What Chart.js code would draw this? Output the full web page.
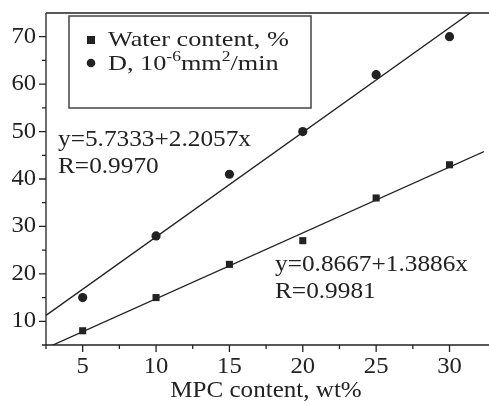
<!DOCTYPE html>
<html>
<head>
<meta charset="utf-8">
<script src="https://cdn.jsdelivr.net/npm/chart.js@4"></script>
<style>
  body { margin: 0; background: #fff; }
  #wrap { width: 489px; height: 405px; }
</style>
</head>
<body>
<div id="wrap"><canvas id="myChart" width="489" height="405"></canvas></div>
<script>
// data
const mpc = [5, 10, 15, 20, 25, 30];
const water = [8, 15, 22, 27, 36, 43];
const diff = [15, 28, 41, 50, 62, 70];

// fitted lines as printed on the figure
const waterFit = [0.8667, 1.3886];
const diffFit = [5.7333, 2.2057];
const waterText = ['y=0.8667+1.3886x', 'R=0.9981'];
const diffText = ['y=5.7333+2.2057x', 'R=0.9970'];

const xTicks = [5, 10, 15, 20, 25, 30];
const yTicks = [10, 20, 30, 40, 50, 60, 70];
const xMinor = [2.5, 7.5, 12.5, 17.5, 22.5, 27.5];
const yMinor = [5, 15, 25, 35, 45, 55, 65];

const xMin = 2.5, xMax = 32.35;
const ink = '#222';
const serif = '"Liberation Serif", "Times New Roman", serif';

function pts(xs, ys) { return xs.map((x, i) => ({x: x, y: ys[i]})); }
function fitLine(c) { return [xMin, xMax].map(x => ({x: x, y: c[0] + c[1] * x})); }

// text with a slight horizontal stretch, like the scanned figure
function txt(ctx, s, x, y, size, stretch, align) {
  ctx.save();
  ctx.font = size + 'px ' + serif;
  ctx.textBaseline = 'middle';
  let w = ctx.measureText(s).width * stretch;
  let x0 = align === 'center' ? x - w / 2 : align === 'right' ? x - w : x;
  ctx.translate(x0, y);
  ctx.scale(stretch, 1);
  ctx.textAlign = 'left';
  ctx.fillStyle = ink;
  ctx.fillText(s, 0, 0);
  ctx.restore();
  return w;
}

const decor = {
  id: 'decor',
  afterDraw(chart) {
    const ctx = chart.ctx;
    const a = chart.chartArea;
    const xs = chart.scales.x, ys = chart.scales.y;
    ctx.save();
    ctx.strokeStyle = ink;
    ctx.lineWidth = 1.3;
    ctx.beginPath();
    ctx.moveTo(a.left, a.top); ctx.lineTo(a.left, a.bottom); ctx.lineTo(chart.width, a.bottom);
    ctx.moveTo(a.left, a.top); ctx.lineTo(chart.width, a.top);
    // ticks
    xTicks.forEach(v => { const p = xs.getPixelForValue(v); ctx.moveTo(p, a.bottom); ctx.lineTo(p, a.bottom + 7); });
    xMinor.forEach(v => { const p = xs.getPixelForValue(v); ctx.moveTo(p, a.bottom); ctx.lineTo(p, a.bottom + 4); });
    yTicks.forEach(v => { const p = ys.getPixelForValue(v); ctx.moveTo(a.left, p); ctx.lineTo(a.left - 7, p); });
    yMinor.forEach(v => { const p = ys.getPixelForValue(v); ctx.moveTo(a.left, p); ctx.lineTo(a.left - 4, p); });
    ctx.stroke();

    xTicks.forEach(v => txt(ctx, String(v), xs.getPixelForValue(v), a.bottom + 22, 23, 1.07, 'center'));
    yTicks.forEach(v => txt(ctx, String(v), a.left - 10, ys.getPixelForValue(v), 23, 1.07, 'right'));
    txt(ctx, 'MPC content, wt%', 266, 391, 23, 1.09, 'center');

    // fit annotations
    txt(ctx, diffText[0], 58, 140, 23, 1.1, 'left');
    txt(ctx, diffText[1], 58, 167, 23, 1.1, 'left');
    txt(ctx, waterText[0], 275, 265, 23, 1.1, 'left');
    txt(ctx, waterText[1], 275, 292, 23, 1.1, 'left');

    // legend box
    ctx.strokeStyle = '#444';
    ctx.lineWidth = 1.5;
    ctx.strokeRect(69, 16, 242, 92);
    ctx.fillStyle = ink;
    ctx.fillRect(87, 36, 8, 8);
    ctx.beginPath(); ctx.arc(91, 63, 4.3, 0, Math.PI * 2); ctx.fill();
    txt(ctx, 'Water content, %', 108, 40, 21, 1.25, 'left');
    let x = 108;
    x += txt(ctx, 'D, 10', x, 64, 21, 1.25, 'left');
    x += txt(ctx, '-6', x, 57, 14, 1.25, 'left');
    x += txt(ctx, 'mm', x, 64, 21, 1.25, 'left');
    x += txt(ctx, '2', x, 57, 14, 1.25, 'left');
    txt(ctx, '/min', x, 64, 21, 1.25, 'left');
    ctx.restore();
  }
};

const ctx = document.getElementById('myChart').getContext('2d');

const myChart = new Chart(ctx, {
  type: 'scatter',
  data: {
    datasets: [
      {
        label: 'Water content, %',
        data: pts(mpc, water),
        pointStyle: 'rect',
        pointRadius: 5,
        backgroundColor: ink,
        borderColor: ink,
        borderWidth: 0
      },
      {
        label: 'D',
        data: pts(mpc, diff),
        pointStyle: 'circle',
        pointRadius: 4.6,
        backgroundColor: ink,
        borderColor: ink,
        borderWidth: 0
      },
      {
        type: 'line',
        data: fitLine(waterFit),
        borderColor: ink,
        borderWidth: 1.3,
        pointRadius: 0
      },
      {
        type: 'line',
        data: fitLine(diffFit),
        borderColor: ink,
        borderWidth: 1.3,
        pointRadius: 0
      }
    ]
  },
  options: {
    responsive: false,
    animation: false,
    layout: { padding: { top: 13, right: 0, left: 0, bottom: 0 } },
    plugins: { legend: { display: false }, tooltip: { enabled: false } },
    scales: {
      x: {
        type: 'linear', min: xMin, max: xMax,
        ticks: { display: false },
        grid: { display: false },
        border: { display: false },
        afterFit: s => { s.height = 60; }
      },
      y: {
        min: 5, max: 75,
        ticks: { display: false },
        grid: { display: false },
        border: { display: false },
        afterFit: s => { s.width = 46; }
      }
    }
  },
  plugins: [decor]
});
</script>
</body>
</html>
